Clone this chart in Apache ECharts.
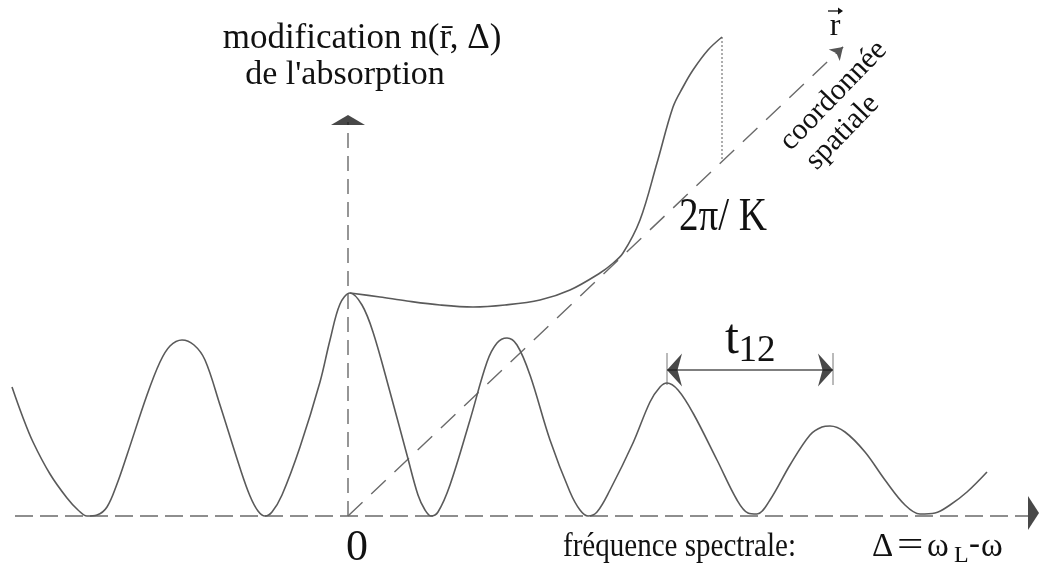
<!DOCTYPE html>
<html><head><meta charset="utf-8">
<script src="https://cdn.jsdelivr.net/npm/echarts@6/dist/echarts.min.js"></script>
<style>html,body{margin:0;padding:0;background:#fff}#c{width:1039px;height:570px}</style>
</head><body><div id="c"></div>
<script>
// Oscillating absorption profile n(Δ) along the frequency axis (x: Δ offset from origin, y: height above baseline)
const oscillation = [
 [-336,129],[-326,101],[-315,74],[-298,42],[-281,18],[-270,6],[-261,0],[-251,1],[-241,9],[-231,32],
 [-221,61],[-201,121],[-188,154],[-178,170],[-166,176],[-154,171],[-143,156],[-128,111],[-108,48],[-98,20],
 [-90,5],[-83,0],[-76,4],[-66,21],[-48,69],[-28,134],[-18,176],[-8,212],[2,223],[14,211],
 [25,184],[42,124],[59,61],[70,21],[77,6],[83,0],[90,4],[102,31],[122,96],[139,154],
 [149,173],[159,178],[169,171],[182,141],[202,76],[222,24],[232,6],[240,0],[249,4],[262,26],
 [285,73],[302,114],[312,129],[319,133],[330,126],[345,103],[369,56],[389,16],[400,3],[409,2],
 [422,16],[442,51],[462,81],[474,89],[482,90],[497,84],[517,64],[537,36],[557,11],[572,2],
 [587,3],[602,11],[619,24],[639,44]
];
// Spatial profile n(r) drawn in perspective from the central peak
const envelope = [
 [2,223],[32,219],[59,215],[92,211],[125,209],[157,211],[192,216],[222,226],[252,243],[264,252],
 [275,263],[292,296],[309,353],[325,409],[335,429],[345,446],[360,466],[374,479]
];
// Axes and guides
const freqAxis = [[-333,0],[680,0]];
const absAxis = [[0,0],[0,394]];
const spaceAxis = [[0,0],[495,469]];
const periodMark = [[374,479],[374,357]];
const t12Span = [[319,146],[485,146]];
const t12TickL = [[319,131],[319,163]];
const t12TickR = [[485,131],[485,163]];
// arrow heads (tips)
const absArrowTip = [0,401];
const freqArrowTip = [691,3];

const gray = '#6a6a6a';
const chart = echarts.init(document.getElementById('c'));
const serif = '"Liberation Serif","DejaVu Serif",serif';
function seg(data, type, w, color){
  return {type:'line', data:data, symbol:'none', silent:true, animation:false,
    lineStyle:{color:color||gray, width:w||1.4, type:type||'solid'}};
}
function txt(x, y, s, size, align, extra){
  return Object.assign({type:'text', x:x, y:y, style:{text:s, font:size+'px '+serif, fill:'#111',
    textAlign:align||'center', textVerticalAlign:'middle'}}, extra||{});
}
const dashH = [18,7], dashV = [15,8], dashD = [20,12];
chart.setOption({
  animation:false,
  grid:{left:0,right:0,top:0,bottom:0},
  xAxis:{type:'value',min:-348,max:691,show:false},
  yAxis:{type:'value',min:-54,max:516,show:false},
  series:[
    seg(freqAxis, dashH, 1.4),
    seg(absAxis, dashV, 1.4),
    Object.assign(seg(spaceAxis, dashD, 1.4), {
      markLine:{silent:true, animation:false, symbol:['none','arrow'], symbolSize:12,
        lineStyle:{color:'#555', width:1.2, type:'solid'}, label:{show:false},
        data:[[{coord:[488,462.4]},{coord:spaceAxis[1]}]]}
    }),
    seg(periodMark, [2,2], 1.2, '#777'),
    seg(t12Span, 'solid', 1.4, '#555'),
    seg(t12TickL, 'solid', 1, '#777'),
    seg(t12TickR, 'solid', 1, '#777'),
    Object.assign(seg(oscillation, 'solid', 1.6, '#5a5a5a'), {smooth:0.35}),
    Object.assign(seg(envelope, 'solid', 1.6, '#5a5a5a'), {smooth:0.35}),
    {type:'scatter', silent:true, animation:false, z:5, clip:false,
      data:[
        {value:absArrowTip, symbol:'path://M0,10L5,0L10,10Z', symbolSize:[34,10], symbolOffset:[0,5]},
        {value:freqArrowTip, symbol:'path://M0,0L10,5L0,10Z', symbolSize:[11,34], symbolOffset:[-5.5,0]},
        {value:t12Span[0], symbol:'path://M10,0L0,5L10,10L7,5Z', symbolSize:[15,33], symbolOffset:[7.5,0]},
        {value:t12Span[1], symbol:'path://M0,0L10,5L0,10L3,5Z', symbolSize:[15,33], symbolOffset:[-7.5,0]}
      ],
      itemStyle:{color:'#1a1a1a'}}
  ],
  graphic:[
    txt(362, 39, 'modification n(r\u0304, \u0394)', 35),
    txt(345, 75, "de l'absorption", 34),
    txt(835, 27, 'r', 32),
    {type:'line', shape:{x1:828,y1:11,x2:841,y2:11}, style:{stroke:'#111', lineWidth:1.3}},
    {type:'polygon', shape:{points:[[838,7.5],[843,11],[838,14.5]]}, style:{fill:'#111'}},
    {type:'group', x:838, y:114, rotation:46*Math.PI/180, children:[
      txt(10, -16, 'coordonnée', 30),
      txt(-10, 16, 'spatiale', 30)
    ]},
    txt(723, 218, '2\u03C0/ K', 46, 'center', {scaleX:0.85}),
    txt(732, 340, 't', 50),
    txt(757, 351, '12', 37),
    txt(357, 548, '0', 44),
    txt(563, 547, 'fréquence spectrale:', 33, 'left', {scaleX:0.88}),
    txt(872, 547, '\u0394', 33, 'left'),
    txt(897, 547, '=', 36, 'left', {scaleX:1.3}),
    txt(927, 547, '\u03C9', 33, 'left'),
    txt(954, 556, 'L', 24, 'left'),
    txt(969, 545, '-', 33, 'left'),
    txt(981, 547, '\u03C9', 33, 'left')
  ]
});
</script></body></html>
